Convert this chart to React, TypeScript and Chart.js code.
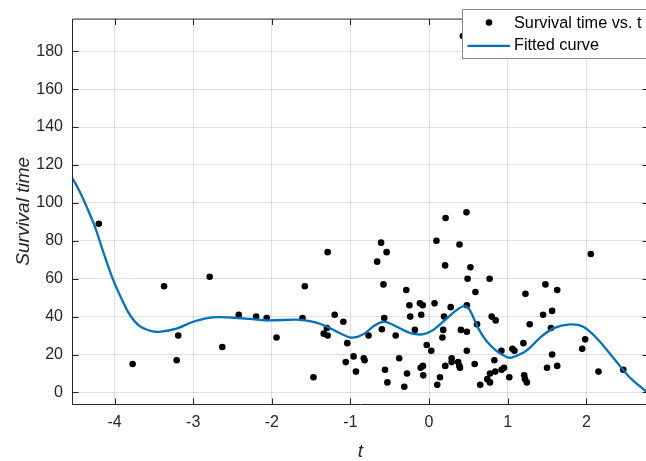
import React, { useEffect, useRef } from "react";
import { Chart, registerables } from "chart.js";

Chart.register(...registerables);

// Scatter data: t values and survival times
const tValues = [
  -4.2, -3.77, -3.37, -3.19, -3.21, -2.79, -2.63, -2.42, -2.2, -2.065, -1.94, -1.61, -1.58, -1.47,
  -1.29, -1.34, -1.29, -1.3, -1.2, -1.09, -1.04, -1.06, -0.96, -0.93, -0.83, -0.82, -0.77, -0.61,
  -0.54, -0.66, -0.58, -0.57, -0.6, -0.56, -0.53, -0.425, -0.38,
  -0.315, -0.28, -0.29, -0.25, -0.24, -0.18, -0.116, -0.08, -0.1, -0.03, 0.028, -0.107, -0.078,
  -0.074, 0.07, 0.094, 0.21, 0.476, 0.387, 0.204, 0.526, 0.49, 0.59, 0.77, 0.275, 0.48, 0.19, 0.18,
  0.17, 0.405, 0.48, 0.61, 0.48, 0.287, 0.287, 0.206, 0.37, 0.385, 0.393, 0.139, 0.104, 0.58, 0.65,
  0.74, 0.775, 0.775, 0.842, 0.83, 0.796, 0.847, 0.92, 0.953, 0.923, 1.02, 1.06, 1.086, 1.2, 1.226,
  1.28, 1.21, 1.22, 1.243, 0.43,
  1.48, 1.63, 1.45, 1.565, 1.55, 1.565, 1.5, 1.63, 2.057, 1.985, 1.947, 2.155, 2.47,
];
const survivalValues = [
  89, 15, 56, 30, 17, 61, 24, 41, 40, 39.3, 29, 39.3, 56, 8,
  74, 31, 30, 34, 41, 37.3, 26, 16, 19, 11, 18, 17, 30, 79,
  74, 69, 57, 39.3, 33.3, 12, 5.3, 30, 18,
  3, 10, 54, 46, 40, 33, 47, 46, 41, 25, 22, 13, 14,
  9, 47, 80, 92, 95, 78, 67, 66, 60, 53, 60, 45, 46, 40, 33,
  29, 33, 32, 36, 22, 18, 16, 14, 16, 14, 13, 8, 4, 15, 4,
  7, 5.3, 10, 11, 17, 40, 38, 22, 13, 12, 8, 23, 22, 26, 52,
  36, 9, 7, 5.3, 188,
  57, 54, 41, 43, 34, 20, 13, 14, 73, 28, 23, 11, 12,
];

// Fitted curve samples
const curveT = [
  -4.541, -4.45, -4.35, -4.25, -4.15, -4.02, -3.89, -3.79, -3.68, -3.53, -3.43, -3.21, -3.0, -2.75,
  -2.49, -2.28, -2.03, -1.69, -1.5, -1.345, -1.175, -0.985, -0.837, -0.688, -0.58, -0.455, -0.285,
  -0.2, -0.074, 0.053, 0.224, 0.371, 0.457, 0.52, 0.626, 0.733, 0.86, 0.987, 1.05, 1.196, 1.28, 1.41,
  1.58, 1.79, 1.96, 2.13, 2.34, 2.55, 2.74, 2.8,
];
const curveValues = [
  113.4, 106.5, 97.5, 87.5, 75, 59.6, 47.6, 40, 35, 32.3, 32, 33.7, 37.3, 39.6,
  39.4, 38.8, 38, 38.4, 37.5, 35.6, 32.1, 28.9, 30.7, 35.4, 37.3, 35.6, 32.1,
  30.9, 30.7, 33, 39, 44.1, 45.5, 43.3, 33.8, 27, 21.8, 18.7, 18.4, 20.9, 23.5, 28.8,
  33.8, 35.9, 34.7, 28.7, 18.4, 8, 1.2, -0.9,
];

const xTicks = [-4, -3, -2, -1, 0, 1, 2];
const yTicks = [0, 20, 40, 60, 80, 100, 120, 140, 160, 180];
const legendLabels = ["Survival time vs. t", "Fitted curve"];
const xLabel = "t";
const yLabel = "Survival time";

const FONT = "'Liberation Sans', Arial, Helvetica, sans-serif";
const AXIS_COLOR = "#262626";
const CURVE_COLOR = "#0072BD";

const framePlugin = {
  id: "matlabFrame",
  afterDraw(chart: any) {
    const { ctx, chartArea } = chart;
    const { left, right, top, bottom } = chartArea;
    const xs = chart.scales.x;
    const ys = chart.scales.y;
    ctx.save();
    // box
    ctx.strokeStyle = AXIS_COLOR;
    ctx.lineWidth = 1;
    ctx.beginPath();
    ctx.rect(left + 0.5, top + 0.5, right - left - 1, bottom - top);
    ctx.stroke();
    // inner ticks
    const tl = 6;
    ctx.beginPath();
    xTicks.forEach((v) => {
      const px = Math.round(xs.getPixelForValue(v)) + 0.5;
      ctx.moveTo(px, bottom + 0.5);
      ctx.lineTo(px, bottom + 0.5 - tl);
      ctx.moveTo(px, top + 0.5);
      ctx.lineTo(px, top + 0.5 + tl);
    });
    yTicks.forEach((v) => {
      const py = Math.round(ys.getPixelForValue(v)) + 0.5;
      ctx.moveTo(left + 0.5, py);
      ctx.lineTo(left + 0.5 + tl, py);
      ctx.moveTo(right - 0.5, py);
      ctx.lineTo(right - 0.5 - tl, py);
    });
    ctx.stroke();

    // legend
    const lx = 462.5;
    const ly = 9.5;
    const lw = 260;
    const lh = 49;
    ctx.fillStyle = "#ffffff";
    ctx.fillRect(lx, ly, lw, lh);
    ctx.strokeStyle = "#8a8a8a";
    ctx.lineWidth = 1;
    ctx.strokeRect(lx, ly, lw, lh);
    // marker
    ctx.fillStyle = "#000000";
    ctx.beginPath();
    ctx.arc(489, 22.5, 3.3, 0, Math.PI * 2);
    ctx.fill();
    // line
    ctx.strokeStyle = CURVE_COLOR;
    ctx.lineWidth = 2.3;
    ctx.beginPath();
    ctx.moveTo(467.5, 45.8);
    ctx.lineTo(510, 45.8);
    ctx.stroke();
    // text
    ctx.fillStyle = "#000000";
    ctx.font = `16.3px ${FONT}`;
    ctx.textBaseline = "middle";
    ctx.textAlign = "left";
    ctx.fillText(legendLabels[0], 514, 23.5);
    ctx.fillText(legendLabels[1], 514, 46);
    ctx.restore();
  },
};

export default function App() {
  const canvasRef = useRef<HTMLCanvasElement | null>(null);

  useEffect(() => {
    document.body.style.margin = "0";
    const canvas = canvasRef.current;
    if (!canvas) return;
    const scatterData = tValues.map((t, i) => ({ x: t, y: survivalValues[i] }));
    const curveData = curveT.map((t, i) => ({ x: t, y: curveValues[i] }));

    const chart = new Chart(canvas, {
      type: "scatter",
      data: {
        datasets: [
          {
            label: legendLabels[1],
            data: curveData,
            showLine: true,
            borderColor: CURVE_COLOR,
            borderWidth: 2.3,
            pointRadius: 0,
            tension: 0.35,
            order: 0,
          } as any,
          {
            label: legendLabels[0],
            data: scatterData,
            showLine: false,
            pointRadius: 3.3,
            pointBackgroundColor: "#000000",
            pointBorderWidth: 0,
            order: 1,
          } as any,
        ],
      },
      options: {
        responsive: false,
        animation: false,
        devicePixelRatio: 1,
        events: [],
        layout: { padding: { top: 9, right: 11, left: 0, bottom: 0 } },
        plugins: {
          legend: { display: false },
          tooltip: { enabled: false },
        },
        scales: {
          x: {
            type: "linear",
            min: -4.541,
            max: 2.797,
            afterBuildTicks: (scale: any) => {
              scale.ticks = xTicks.map((v) => ({ value: v }));
            },
            afterFit: (scale: any) => {
              scale.height = 57;
            },
            grid: { color: "rgba(38,38,38,0.15)", lineWidth: 1, drawTicks: false },
            border: { display: false },
            ticks: {
              color: AXIS_COLOR,
              font: { family: FONT, size: 16 },
              padding: 9.4,
              maxRotation: 0,
              callback: (v: any) => String(v),
            },
            title: {
              display: true,
              text: xLabel,
              color: AXIS_COLOR,
              font: { family: FONT, size: 19, style: "italic", lineHeight: 1 },
              padding: 0,
            },
          },
          y: {
            type: "linear",
            min: -6.1,
            max: 197.2,
            afterBuildTicks: (scale: any) => {
              scale.ticks = yTicks.map((v) => ({ value: v }));
            },
            afterFit: (scale: any) => {
              scale.width = 72;
            },
            grid: { color: "rgba(38,38,38,0.15)", lineWidth: 1, drawTicks: false },
            border: { display: false },
            ticks: {
              color: AXIS_COLOR,
              font: { family: FONT, size: 16 },
              padding: 9,
              callback: (v: any) => String(v),
            },
            title: {
              display: true,
              text: yLabel,
              color: AXIS_COLOR,
              font: { family: FONT, size: 19, style: "italic", lineHeight: 1 },
              padding: { top: 14.5, bottom: 0 },
            },
          },
        },
      },
      plugins: [framePlugin],
    });
    return () => chart.destroy();
  }, []);

  return (
    <div
      style={{
        position: "fixed",
        left: 0,
        top: 0,
        width: 646,
        height: 461,
        overflow: "hidden",
        background: "#ffffff",
      }}
    >
      <canvas ref={canvasRef} width={660} height={461} style={{ display: "block" }} />
    </div>
  );
}
